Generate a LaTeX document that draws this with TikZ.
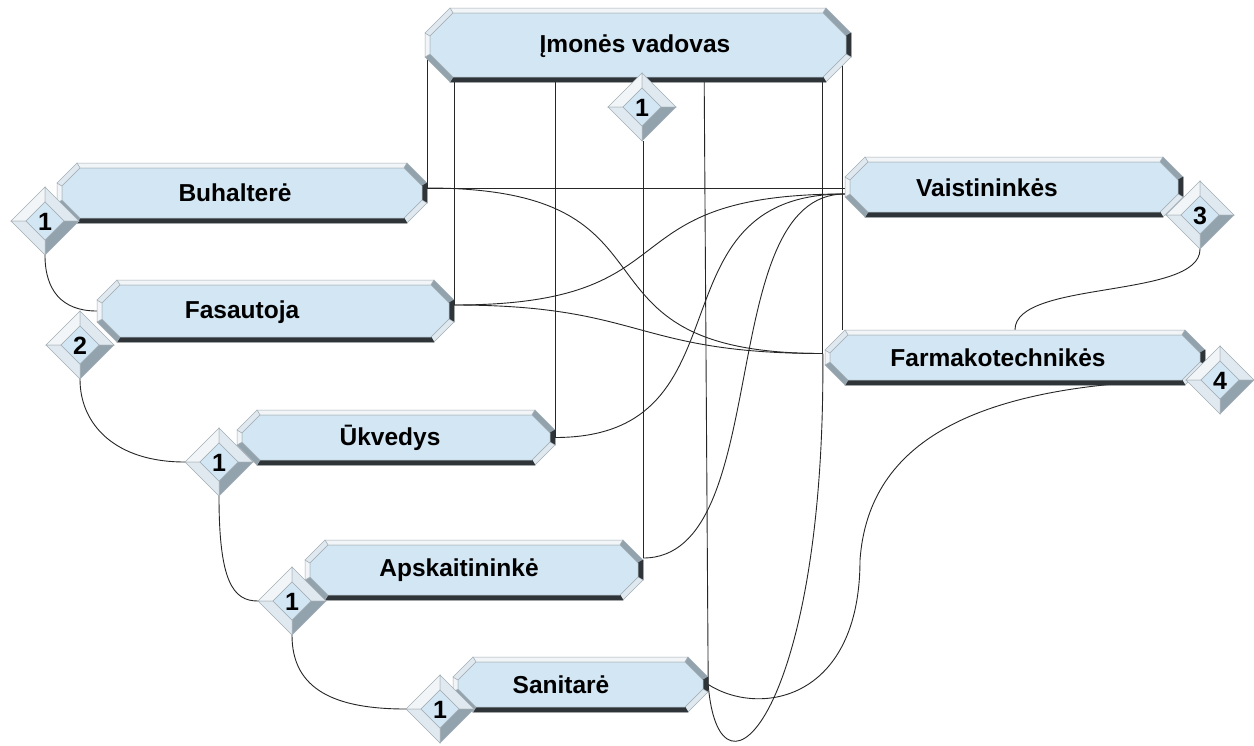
\documentclass[tikz,border=0pt]{standalone}
\usepackage{fontspec}
\setmainfont{Liberation Sans}
\usetikzlibrary{calc,shapes.geometric}
\pgfdeclarelayer{bg}
\pgfsetlayers{bg,main}
\definecolor{fillB}{HTML}{D3E6F4}
\definecolor{lite}{HTML}{F1F5F7}
\definecolor{lite2}{HTML}{E0E9EF}
\definecolor{midg}{HTML}{93A3AD}
\definecolor{darkb}{HTML}{2E3437}
\definecolor{edgeg}{HTML}{A3AEB5}
\tikzset{
  boxnode/.style={rectangle, inner sep=0pt, draw=none},
  dianode/.style={diamond, minimum width=68pt, minimum height=68pt, inner sep=0pt, draw=none},
  lbl/.style={font=\fontsize{24.5}{28}\selectfont\bfseries, text=black, inner sep=0pt},
  numlbl/.style={font=\fontsize{25}{28}\selectfont\bfseries, text=black, inner sep=0pt},
  face/.style={draw=edgeg, line width=0.5pt},
  conn/.style={draw=black!85, line width=0.9pt},
}
% beveled box: name, x1, y1, x2, y2, chamfer
\newcommand{\bevbox}[6]{%
  \pgfmathsetmacro{\bvW}{#4-#2}\pgfmathsetmacro{\bvH}{#5-#3}%
  \node[boxnode, minimum width=\bvW pt, minimum height=\bvH pt] (#1) at ({(#2+#4)/2},{(#3+#5)/2}) {};
  \coordinate (A1) at ({#2+#6},#3); \coordinate (A2) at ({#4-#6},#3);
  \coordinate (A3) at (#4,{#3+#6}); \coordinate (A4) at (#4,{#5-#6});
  \coordinate (A5) at ({#4-#6},#5); \coordinate (A6) at ({#2+#6},#5);
  \coordinate (A7) at (#2,{#5-#6}); \coordinate (A8) at (#2,{#3+#6});
  \coordinate (B1) at ({#2+#6+3},{#3+5}); \coordinate (B2) at ({#4-#6-3},{#3+5});
  \coordinate (B3) at ({#4-5},{#3+#6+3}); \coordinate (B4) at ({#4-5},{#5-#6-3});
  \coordinate (B5) at ({#4-#6-3},{#5-5}); \coordinate (B6) at ({#2+#6+3},{#5-5});
  \coordinate (B7) at ({#2+5},{#5-#6-3}); \coordinate (B8) at ({#2+5},{#3+#6+3});
  \filldraw[face, fill=lite] (A1)--(A2)--(B2)--(B1)--cycle;
  \filldraw[face, fill=midg] (A2)--(A3)--(B3)--(B2)--cycle;
  \filldraw[face, fill=darkb, draw=darkb] (A3)--(A4)--(B4)--(B3)--cycle;
  \filldraw[face, fill=lite2] (A4)--(A5)--(B5)--(B4)--cycle;
  \filldraw[face, fill=darkb, draw=darkb] (A5)--(A6)--(B6)--(B5)--cycle;
  \filldraw[face, fill=midg] (A6)--(A7)--(B7)--(B6)--cycle;
  \filldraw[face, fill=lite] (A7)--(A8)--(B8)--(B7)--cycle;
  \filldraw[face, fill=lite2] (A8)--(A1)--(B1)--(B8)--cycle;
  \filldraw[face, fill=fillB] (B1)--(B2)--(B3)--(B4)--(B5)--(B6)--(B7)--(B8)--cycle;
}
% beveled diamond: name, x, y, number
\newcommand{\bevdia}[4]{%
  \node[dianode] (#1) at (#2,#3) {};
  \coordinate (DN) at (#2,{#3-34}); \coordinate (DE) at ({#2+34},#3);
  \coordinate (DS) at (#2,{#3+34}); \coordinate (DW) at ({#2-34},#3);
  \coordinate (dn) at (#2,{#3-19}); \coordinate (de) at ({#2+19},#3);
  \coordinate (ds) at (#2,{#3+19}); \coordinate (dw) at ({#2-19},#3);
  \filldraw[face, fill=lite] (DW)--(DN)--(dn)--(dw)--cycle;
  \filldraw[face, fill=lite2] (DN)--(DE)--(de)--(dn)--cycle;
  \filldraw[face, fill=midg] (DE)--(DS)--(ds)--(de)--cycle;
  \filldraw[face, fill=lite2] (DS)--(DW)--(dw)--(ds)--cycle;
  \filldraw[face, fill=fillB] (dn)--(de)--(ds)--(dw)--cycle;
  \node[numlbl] (#1n) at (#2,{#3+1}) {#4};
}
\begin{document}
\begin{tikzpicture}[x=1pt,y=-1pt]
\useasboundingbox (0,0) rectangle (1254,745);

% boxes
\bevbox{vad}{425}{8}{851}{82}{25}
\bevbox{buh}{57}{163}{427}{223}{20}
\bevbox{fas}{97}{280}{454}{342}{20}
\bevbox{ukv}{237}{410}{555}{465}{20}
\bevbox{aps}{305}{540}{643}{600}{20}
\bevbox{san}{453}{657}{708}{712}{20}
\bevbox{vai}{845}{157}{1183}{217}{20}
\bevbox{far}{825}{330}{1205}{385}{20}

% diamonds
\bevdia{dv}{642}{107}{1}
\bevdia{dbuh}{45}{221}{1}
\bevdia{dfas}{80}{345}{2}
\bevdia{dukv}{219}{462}{1}
\bevdia{daps}{292}{601}{1}
\bevdia{dsan}{440}{709}{1}
\bevdia{dvai}{1200}{215}{3}
\bevdia{dfar}{1220}{380}{4}

% labels
\node[lbl] (vadT) at (635,46) {Įmonės vadovas};
\node[lbl] (buhT) at (235,193) {Buhalterė};
\node[lbl] (fasT) at (242,312) {Fasautoja};
\node[lbl] (ukvT) at (390,438) {Ūkvedys};
\node[lbl] (apsT) at (459,570) {Apskaitininkė};
\node[lbl] (sanT) at (561,685) {Sanitarė};
\node[lbl] (vaiT) at (987,188) {Vaistininkės};
\node[lbl] (farT0) at (998,358) {Farmakotechnikės};

% connection points
\coordinate (buhR) at ($(buh.east)+(0,-5)$);
\coordinate (fasR) at ($(fas.east)+(0,-6)$);
\coordinate (ukvR) at (ukv.east);
\coordinate (apsR) at ($(aps.east)+(0,-12)$);
\coordinate (sanR) at (san.east);
\coordinate (vaiIn) at ($(vai.west)+(0,7)$);
\coordinate (farL) at ($(far.west)+(-2,-4)$);
\coordinate (farTop) at ($(far.north west)+(18,0)$);
\coordinate (sfMid) at (860,560);

\begin{pgfonlayer}{bg}
\fill[white] (0,0) rectangle (1254,745);
% verticals from the manager
\draw[conn] (buhR) -- (buhR |- vad.west);
\draw[conn] (fasR) -- (fasR |- vad.south);
\draw[conn] (ukvR) -- (ukvR |- vad.south);
\draw[conn] (apsR) -- (apsR |- dv.south);
\draw[conn] (sanR) -- ($(sanR |- vad.south)+(-4,0)$);
\draw[conn] (farL) -- (farL |- vad.south);
\draw[conn] (farTop) -- (farTop |- vad.east);
% to Vaistininkes
\draw[conn] (buhR) -- (buhR -| vai.west);
\draw[conn] (fasR) .. controls +(245,0) and +(-245,0) .. (vaiIn);
\draw[conn] (ukvR) .. controls +(200,0) and +(-200,0) .. (vaiIn);
\draw[conn] (apsR) .. controls +(132,0) and +(-132,0) .. (vaiIn);
% to Farmakotechnikes
\draw[conn] (buhR) .. controls +(273,0) and +(-272,0) .. (farL);
\draw[conn] (fasR) .. controls +(190,0) and +(-190,0) .. (farL);
\draw[conn] (sanR) .. controls +(11,137) and +(3,357) .. (farL);
\draw[conn] (sanR) .. controls +(52,33) and +(0,140) .. (sfMid)
                   .. controls +(8,-110) and +(-226,5) .. (dfar.west);
% diamond chain
\draw[conn] (dbuh.south) .. controls +(0,35) and +(-35,0) .. (fas.west);
\draw[conn] (dfas.south) .. controls +(0,45) and +(-70,0) .. (dukv.west);
\draw[conn] (dukv.south) .. controls +(0,85) and +(-25,0) .. (daps.west);
\draw[conn] (daps.south) .. controls +(0,55) and +(-70,0) .. (dsan.west);
\draw[conn] (dvai.south) .. controls +(0,50) and +(0,-50) .. (far.north);
\end{pgfonlayer}
\end{tikzpicture}
\end{document}
